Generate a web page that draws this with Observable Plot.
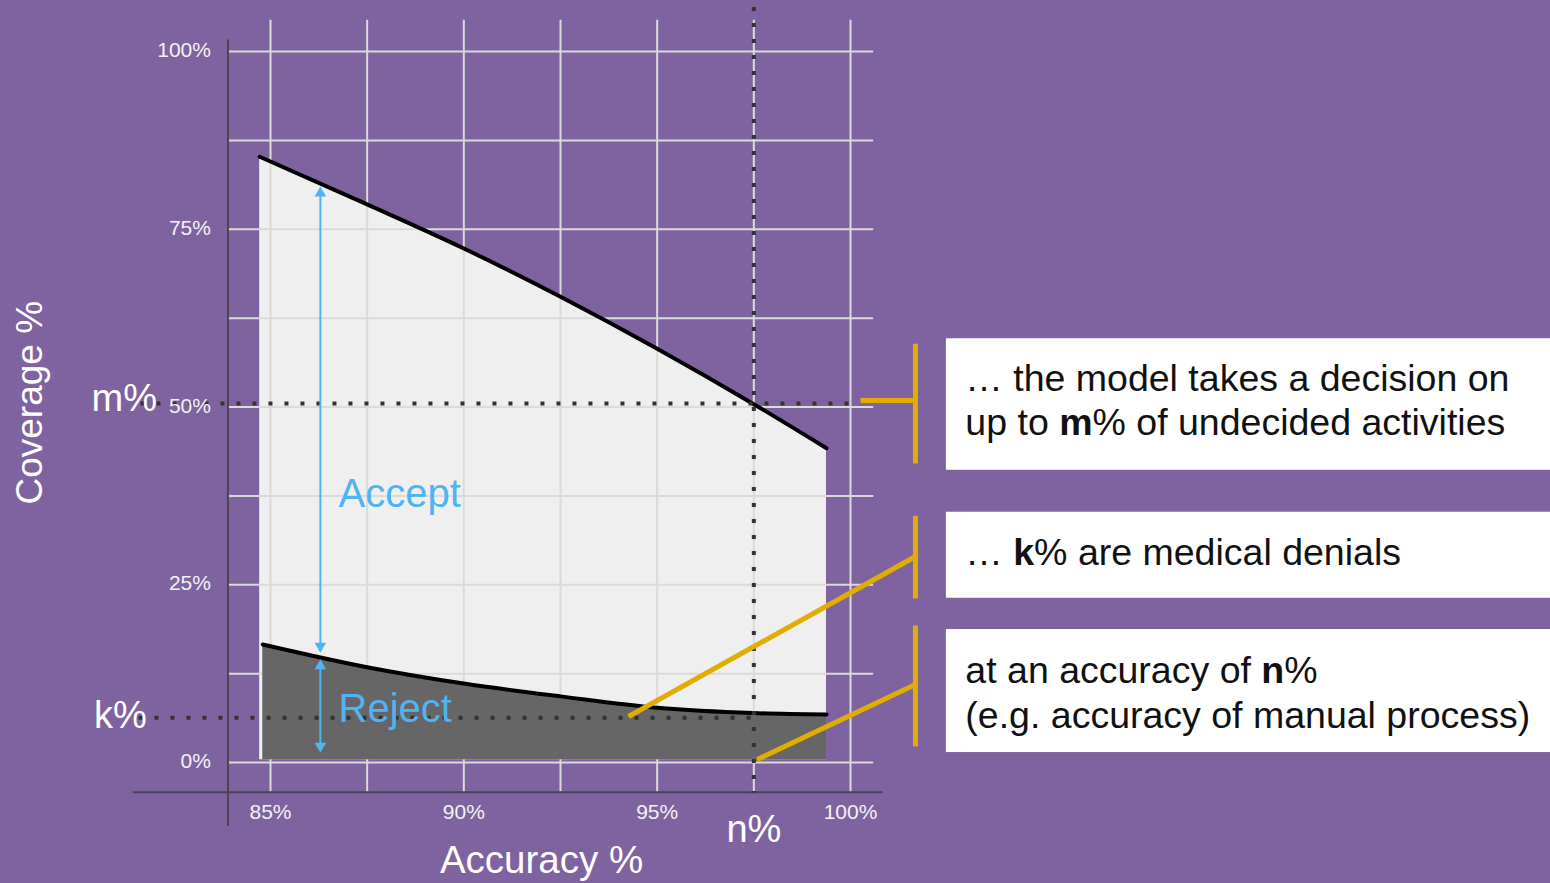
<!DOCTYPE html>
<html><head><meta charset="utf-8">
<script src="https://cdn.jsdelivr.net/npm/d3@7"></script>
<script src="https://cdn.jsdelivr.net/npm/@observablehq/plot@0.6"></script>
<style>
html,body{margin:0;padding:0;background:#7F63A0;overflow:hidden}
#chart svg{display:block}
</style></head><body><div id="chart"></div>
<script>
// ---- data ----
const upperAccuracy = [84.72, 87.5, 90, 92.5, 95, 97.5, 99.38];
const upperCoverage = [85.2, 78.5, 72.3, 65.5, 58.2, 50.4, 44.2];
const lowerAccuracy = [84.8, 87.5, 90, 92.5, 95, 97.5, 99.38];
const lowerCoverage = [16.6, 13.4, 11.1, 9.3, 7.7, 6.95, 6.75];
const xGrid = [85, 87.5, 90, 92.5, 95, 97.5, 100];
const yGrid = [0, 12.5, 25, 37.5, 50, 62.5, 75, 87.5, 100];
const xTickLabels = [85, 90, 95, 100];
const yTickLabels = [0, 25, 50, 75, 100];
const nAccuracy = 97.5, mCoverage = 50.5, kCoverage = 6.3;
const fillBase = 0.4;
const boxTexts = [
  "… the model takes a decision on",
  "up to **m**% of undecided activities",
  "… **k**% are medical denials",
  "at an accuracy of **n**%",
  "(e.g. accuracy of manual process)"
];
const boxTextCoverage = [54.0, 47.7, 29.4, 12.9, 6.6];

// ---- build tables ----
const upper = upperAccuracy.map((x, i) => ({x, y: upperCoverage[i]}));
const lower = lowerAccuracy.map((x, i) => ({x, y: lowerCoverage[i]}));

const FONT = "'Helvetica Neue', 'Liberation Sans', Arial, sans-serif";
const PURPLE = "#7F63A0", GRID = "#dadada", AXIS = "#4a4552", DOT = "#333333";
const BLUE = "#4FB3F4", GOLD = "#E0AD00";

const boxes = [
  {x1: 102.48, x2: 125, y1: 41.1, y2: 59.6},
  {x1: 102.48, x2: 125, y1: 23.1, y2: 35.2},
  {x1: 102.48, x2: 125, y1: 1.4, y2: 18.7}
];
const goldSegs = [
  {x1: 101.68, y1: 58.9, x2: 101.68, y2: 42.05},
  {x1: 100.26, y1: 50.9, x2: 101.68, y2: 50.9},
  {x1: 101.68, y1: 34.7, x2: 101.68, y2: 23.07},
  {x1: 94.26, y1: 6.47, x2: 101.68, y2: 28.97},
  {x1: 101.68, y1: 19.27, x2: 101.68, y2: 2.25},
  {x1: 97.59, y1: 0.42, x2: 101.68, y2: 10.97}
];
const arrowX = 86.29;
const arrows = [
  {top: 81.0, bottom: 15.47},
  {top: 14.49, bottom: 1.41}
];

const plot = Plot.plot({
  width: 1550, height: 883,
  marginTop: 0, marginRight: 0, marginBottom: 0, marginLeft: 0,
  x: {domain: [85, 100], range: [270, 850], axis: null},
  y: {domain: [0, 100], range: [762, 51], axis: null},
  style: {background: PURPLE, fontFamily: FONT, color: "white"},
  marks: [
    // annotation boxes
    Plot.rect(boxes, {x1: "x1", x2: "x2", y1: "y1", y2: "y2", fill: "white"}),
    // accept area
    Plot.areaY(upper, {x: "x", y1: fillBase, y2: "y", curve: "monotone-x", fill: "#efefef"}),
    // grid
    Plot.ruleX(xGrid, {y1: -4.2, y2: 104.4, stroke: GRID, strokeWidth: 2}),
    Plot.ruleY(yGrid, {x1: 83.9, x2: 100.6, stroke: GRID, strokeWidth: 2}),
    // reject area
    Plot.areaY(lower, {x: "x", y1: fillBase, y2: "y", curve: "monotone-x", fill: "#666666"}),
    // axis lines
    Plot.ruleX([83.9], {y1: -9.0, y2: 101.6, stroke: AXIS, strokeWidth: 2}),
    Plot.ruleY([-4.2], {x1: 81.45, x2: 100.85, stroke: AXIS, strokeWidth: 2}),
    // curves
    Plot.line(upper, {x: "x", y: "y", curve: "monotone-x", stroke: "black", strokeWidth: 4}),
    Plot.line(lower, {x: "x", y: "y", curve: "monotone-x", stroke: "black", strokeWidth: 4}),
    // dotted reference lines
    Plot.ruleY([mCoverage], {x1: 81.65, x2: 100.2, stroke: DOT, strokeWidth: 4, strokeDasharray: "4 12"}),
    Plot.ruleY([kCoverage], {x1: 81.6, x2: nAccuracy, stroke: DOT, strokeWidth: 4, strokeDasharray: "4 12"}),
    Plot.ruleX([nAccuracy], {y1: 106.2, y2: -4.3, stroke: DOT, strokeWidth: 4, strokeDasharray: "4 12"}),
    // blue arrows
    Plot.ruleX(arrows, {x: arrowX, y1: d => d.top, y2: d => d.bottom, stroke: BLUE, strokeWidth: 2, insetTop: 8, insetBottom: 8}),
    Plot.dot(arrows, {x: arrowX, y: "top", symbol: "triangle", r: 4.3, fill: BLUE, stroke: null, dy: 6.5}),
    Plot.dot(arrows, {x: arrowX, y: "bottom", symbol: "triangle", r: 4.3, fill: BLUE, stroke: null, dy: -6.5, rotate: 180}),
    Plot.text(["Accept"], {x: 86.76, y: 37.8, text: d => d, textAnchor: "start", fill: BLUE, fontSize: 40}),
    Plot.text(["Reject"], {x: 86.76, y: 7.45, text: d => d, textAnchor: "start", fill: BLUE, fontSize: 40}),
    // gold connectors
    Plot.link(goldSegs, {x1: "x1", y1: "y1", x2: "x2", y2: "y2", stroke: GOLD, strokeWidth: 5}),
    // tick labels
    Plot.text(yTickLabels, {x: 83.9, y: d => d, dx: -17, dy: -1, text: d => d + "%", textAnchor: "end", fill: "#f2f2f2", fontSize: 21}),
    Plot.text(xTickLabels, {x: d => d, y: -7.0, text: d => d + "%", fill: "#f2f2f2", fontSize: 21}),
    // axis titles and symbolic labels
    Plot.text(["Coverage %"], {x: 78.79, y: 50.6, text: d => d, rotate: -90, fill: "white", fontSize: 37}),
    Plot.text(["Accuracy %"], {x: 92.01, y: -13.8, text: d => d, fill: "white", fontSize: 38.5}),
    Plot.text(["m%"], {x: 81.22, y: 51.2, text: d => d, fill: "white", fontSize: 38}),
    Plot.text(["k%"], {x: 81.12, y: 6.6, text: d => d, fill: "white", fontSize: 38}),
    Plot.text(["n%"], {x: nAccuracy, y: -9.4, text: d => d, fill: "white", fontSize: 38}),
    // box texts
    Plot.text(boxTexts, {x: 102.97, y: (d, i) => boxTextCoverage[i], text: d => d, textAnchor: "start", fill: "#111", fontSize: 37.5})
  ]
});

// bold segments marked with **
plot.querySelectorAll("text").forEach(t => {
  if (t.textContent.includes("**")) {
    const parts = t.textContent.split("**");
    t.textContent = "";
    parts.forEach((p, i) => {
      const ts = document.createElementNS("http://www.w3.org/2000/svg", "tspan");
      ts.textContent = p;
      if (i % 2) ts.setAttribute("font-weight", "bold");
      t.appendChild(ts);
    });
  }
});
document.getElementById("chart").appendChild(plot);
</script></body></html>
